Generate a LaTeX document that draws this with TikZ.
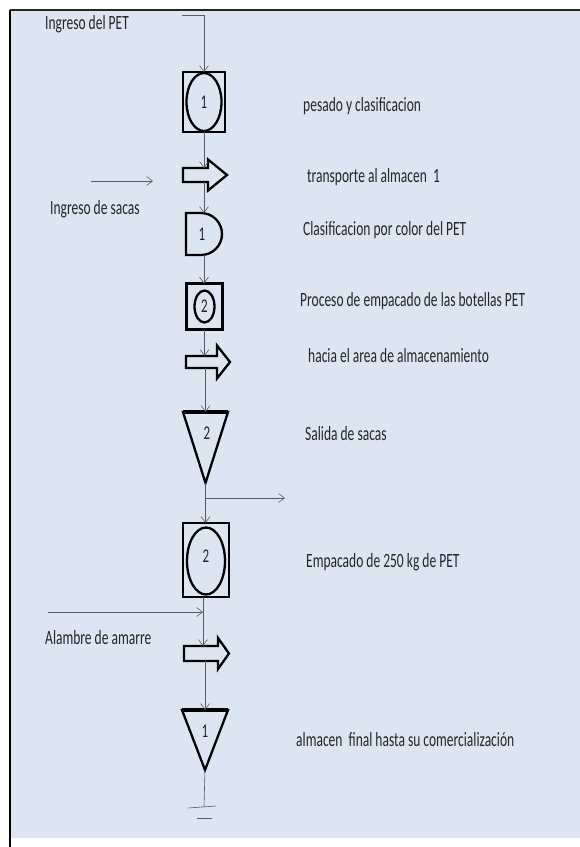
\documentclass[tikz,border=0pt]{standalone}
\usepackage{fontspec}
\setmainfont{Carlito}
\usetikzlibrary{arrows.meta,calc,shapes.geometric}
\definecolor{bgblue}{HTML}{DCE6F2}
\definecolor{txtcol}{HTML}{262626}
\definecolor{conncol}{HTML}{5A5A5A}
\newcommand{\stretchtxt}[1]{\scalebox{1}[1.5]{#1}}
\tikzset{
  lbl/.style={anchor=west, inner sep=0pt, text=txtcol, font=\fontsize{13.5}{16}\selectfont},
  num/.style={inner sep=0pt, text=txtcol, font=\fontsize{13}{15}\selectfont},
  shp/.style={draw=black, line width=2.3pt, line join=miter},
  holder/.style={inner sep=0pt, outer sep=0pt},
  conn/.style={draw=conncol, line width=0.6pt, -{Straight Barb[length=6pt,width=9pt]}},
  plain/.style={draw=conncol, line width=0.6pt},
}
\begin{document}
\begin{tikzpicture}[x=1pt,y=1pt]
\useasboundingbox (0,0) rectangle (580,-847);
% background
\fill[bgblue] (10,-10) rectangle (580,-838);
\draw[black!85, line width=1.5pt] (10,-10) -- (580,-10);
\draw[black, line width=2pt] (10,-10) -- (10,-847);

% ---- shapes ----
\node[shp, holder, minimum width=42pt, minimum height=60pt] (box1) at (204,-102) {};
\node[shp, ellipse, holder, minimum width=35pt, minimum height=58pt] (e1) at (box1.center) {};
\node[num] (n1) at (box1.center) {\stretchtxt{1}};

\node[holder, minimum width=44pt, minimum height=14pt] (tr1) at (205,-175) {};
\draw[shp] (tr1.north west) -- ($(tr1.north east)+(-19,0)$) -- ++(0,8.5) -- (tr1.east)
  -- ($(tr1.south east)+(-19,-8.5)$) -- ($(tr1.south east)+(-19,0)$) -- (tr1.south west) -- cycle;

\node[holder, minimum width=36pt, minimum height=42pt] (d1) at (204,-234) {};
\draw[shp] (d1.north west) -- ++(15,0) arc[start angle=90, end angle=-90, radius=21pt] -- (d1.south west) -- cycle;
\node[num] (n2) at (202,-234) {\stretchtxt{1}};

\node[shp, holder, minimum width=36pt, minimum height=46pt] (box2) at (204.5,-306.5) {};
\node[shp, ellipse, holder, minimum width=20pt, minimum height=32pt] (e2) at (box2.center) {};
\node[num] (n3) at (box2.center) {\stretchtxt{2}};

\node[holder, minimum width=44pt, minimum height=12pt] (tr2) at (208,-362) {};
\draw[shp] (tr2.north west) -- ($(tr2.north east)+(-13,0)$) -- ++(0,10.5) -- (tr2.east)
  -- ($(tr2.south east)+(-13,-10.5)$) -- ($(tr2.south east)+(-13,0)$) -- (tr2.south west) -- cycle;

\node[holder, minimum width=45pt, minimum height=71pt] (tri2) at (205.5,-447.5) {};
\draw[shp] (tri2.north west) -- (tri2.north east) -- (tri2.south) -- cycle;
\draw[black, line width=3.2pt] (tri2.north west) -- (tri2.north east);
\node[num] (n4) at (207,-433) {\stretchtxt{2}};

\node[shp, holder, minimum width=46pt, minimum height=74pt] (box3) at (206,-560) {};
\node[shp, ellipse, holder, minimum width=38pt, minimum height=67pt] (e3) at (206,-561) {};
\node[num] (n5) at (206,-556) {\stretchtxt{2}};

\node[holder, minimum width=45pt, minimum height=15pt] (tr3) at (206.5,-653.5) {};
\draw[shp] (tr3.north west) -- ($(tr3.north east)+(-11,0)$) -- ++(0,8) -- (tr3.east)
  -- ($(tr3.south east)+(-11,-8)$) -- ($(tr3.south east)+(-11,0)$) -- (tr3.south west) -- cycle;

\node[holder, minimum width=46pt, minimum height=60pt] (tri1) at (205,-740) {};
\draw[shp] (tri1.north west) -- (tri1.north east) -- (tri1.south) -- cycle;
\draw[black, line width=3.2pt] (tri1.north west) -- (tri1.north east);
\node[num] (n6) at (205,-731) {\stretchtxt{1}};

% ---- connectors ----
\coordinate (pIn) at (182,-15);
\draw[conn] (pIn) -| (box1.north);
\draw[conn] (box1.south) -- (box1.south |- tr1.north);
\draw[conn] (d1.north |- tr1.south) -- (d1.north);
\coordinate (sacA) at (91,-181);
\coordinate (sacB) at (153,-181);
\draw[conn] (sacA) -- (sacB);
\draw[conn] (d1.south) -- (d1.south |- box2.north);
\draw[conn] (box2.south) -- (box2.south |- tr2.north);
\draw[conn] (tri2.north |- tr2.south) -- (tri2.north);
\coordinate (br) at ($(tri2.south)+(0,-15)$);
\coordinate (brOut) at (285,-498);
\draw[plain] (tri2.south) -- (br);
\draw[conn] (br) -- (brOut);
\draw[conn] (br) -- (br |- box3.north);
\draw[conn] (box3.south -| 203,0) -- (tr3.north -| 203,0);
\coordinate (alA) at (48,-612);
\coordinate (alB) at (203,-612);
\draw[conn] (alA) -- (alB);
\draw[conn] (tr3.south -| tri1.north) -- (tri1.north);
\coordinate (gnd) at (204,-807);
\draw[plain] (tri1.south) -- (gnd);
\coordinate (g1) at (188,-808);
\coordinate (g2) at (216,-806);
\coordinate (g3) at (197,-818);
\coordinate (g4) at (212,-818);
\draw[plain] (g1) -- (g2);
\draw[plain] (g3) -- (g4);

% ---- labels ----
\node[lbl] (l0) at (45,-24) {\stretchtxt{Ingreso del PET}};
\node[lbl] (l1) at (303,-106) {\stretchtxt{pesado y clasificacion}};
\node[lbl] (l2) at (307,-177) {\stretchtxt{transporte al almacen\ \ 1}};
\node[lbl] (l3) at (50,-209) {\stretchtxt{Ingreso de sacas}};
\node[lbl] (l4) at (303,-230) {\stretchtxt{Clasificacion por color del PET}};
\node[lbl] (l5) at (300,-301) {\stretchtxt{Proceso de empacado de las botellas PET}};
\node[lbl] (l6) at (308,-356) {\stretchtxt{hacia el area de almacenamiento}};
\node[lbl] (l7) at (305,-434) {\stretchtxt{Salida de sacas}};
\node[lbl] (l8) at (306,-562) {\stretchtxt{Empacado de 250 kg de PET}};
\node[lbl] (l9) at (45,-638) {\stretchtxt{Alambre de amarre}};
\node[lbl] (l10) at (296,-740) {\stretchtxt{almacen\ \ final hasta su comercialización}};
\end{tikzpicture}
\end{document}
